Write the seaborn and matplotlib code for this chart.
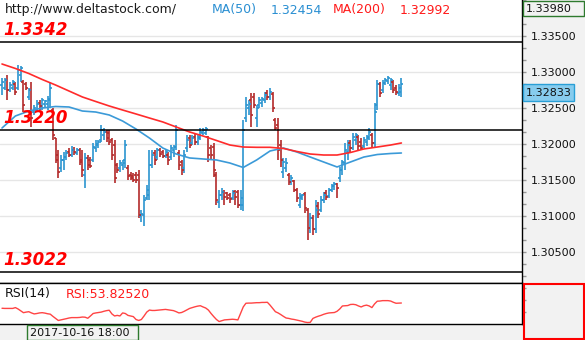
import numpy as np
import matplotlib
matplotlib.use("Agg")
import matplotlib.pyplot as plt
from matplotlib.patches import Rectangle
from matplotlib.ticker import FixedLocator, MultipleLocator, FormatStrFormatter, NullFormatter
import seaborn as sns

# ---------------- data ----------------
opens = [1.3282, 1.3278, 1.3289, 1.3275, 1.3278, 1.3283, 1.3278, 1.3296, 1.3286, 1.3283,
         1.3265, 1.3275, 1.3244, 1.3247, 1.3257, 1.3253, 1.3256, 1.3256, 1.3261, 1.3247,
         1.3208, 1.3185, 1.3167, 1.3178, 1.3182, 1.3189, 1.3185, 1.3192, 1.3188, 1.3192,
         1.3178, 1.3157, 1.3181, 1.3178, 1.3178, 1.3194, 1.3199, 1.3206, 1.3213, 1.3217,
         1.3215, 1.3206, 1.3199, 1.3171, 1.3167, 1.3171, 1.3178, 1.3167, 1.3157, 1.3156,
         1.3157, 1.3157, 1.3100, 1.3101, 1.3125, 1.3129, 1.3171, 1.3188, 1.3182, 1.3192,
         1.3189, 1.3183, 1.3185, 1.3182, 1.3192, 1.3196, 1.3188, 1.3175, 1.3167, 1.3194,
         1.3208, 1.3201, 1.3210, 1.3203, 1.3210, 1.3215, 1.3215, 1.3210, 1.3194, 1.3196,
         1.3157, 1.3119, 1.3129, 1.3133, 1.3132, 1.3129, 1.3125, 1.3133, 1.3133, 1.3115,
         1.3115, 1.3236, 1.3250, 1.3261, 1.3265, 1.3236, 1.3254, 1.3257, 1.3261, 1.3271,
         1.3265, 1.3269, 1.3233, 1.3226, 1.3199, 1.3161, 1.3167, 1.3157, 1.3147, 1.3149,
         1.3136, 1.3115, 1.3125, 1.3131, 1.3108, 1.3083, 1.3097, 1.3082, 1.3114, 1.3108,
         1.3122, 1.3132, 1.3128, 1.3136, 1.3142, 1.3144, 1.3153, 1.3164, 1.3174, 1.3189,
         1.3201, 1.3194, 1.3206, 1.3210, 1.3203, 1.3197, 1.3203, 1.3208, 1.3213, 1.3201,
         1.3254, 1.3283, 1.3275, 1.3285, 1.3288, 1.3282, 1.3286, 1.3278, 1.3271, 1.3272]
highs = [1.3292, 1.3292, 1.3296, 1.3286, 1.3289, 1.3286, 1.3310, 1.3308, 1.3289, 1.3286,
         1.3278, 1.3286, 1.3254, 1.3261, 1.3261, 1.3264, 1.3261, 1.3267, 1.3286, 1.3250,
         1.3208, 1.3192, 1.3185, 1.3189, 1.3192, 1.3194, 1.3197, 1.3196, 1.3194, 1.3194,
         1.3192, 1.3188, 1.3185, 1.3182, 1.3201, 1.3206, 1.3206, 1.3226, 1.3222, 1.3219,
         1.3219, 1.3208, 1.3206, 1.3174, 1.3178, 1.3178, 1.3206, 1.3171, 1.3161, 1.3160,
         1.3161, 1.3164, 1.3108, 1.3129, 1.3143, 1.3192, 1.3192, 1.3192, 1.3194, 1.3194,
         1.3192, 1.3192, 1.3189, 1.3199, 1.3199, 1.3226, 1.3192, 1.3178, 1.3192, 1.3213,
         1.3213, 1.3213, 1.3215, 1.3213, 1.3222, 1.3222, 1.3224, 1.3211, 1.3199, 1.3201,
         1.3161, 1.3136, 1.3139, 1.3136, 1.3133, 1.3132, 1.3136, 1.3136, 1.3136, 1.3136,
         1.3233, 1.3265, 1.3261, 1.3271, 1.3271, 1.3254, 1.3265, 1.3265, 1.3272, 1.3275,
         1.3278, 1.3272, 1.3236, 1.3236, 1.3206, 1.3181, 1.3181, 1.3160, 1.3157, 1.3150,
         1.3139, 1.3132, 1.3131, 1.3133, 1.3111, 1.3104, 1.3101, 1.3122, 1.3119, 1.3128,
         1.3133, 1.3136, 1.3139, 1.3144, 1.3147, 1.3146, 1.3168, 1.3178, 1.3201, 1.3206,
         1.3206, 1.3215, 1.3215, 1.3213, 1.3208, 1.3210, 1.3213, 1.3222, 1.3215, 1.3257,
         1.3289, 1.3286, 1.3289, 1.3292, 1.3294, 1.3292, 1.3289, 1.3282, 1.3283, 1.3292]
lows = [1.3268, 1.3275, 1.3261, 1.3272, 1.3275, 1.3268, 1.3275, 1.3286, 1.3244, 1.3275,
        1.3261, 1.3224, 1.3240, 1.3244, 1.3247, 1.3247, 1.3250, 1.3247, 1.3250, 1.3206,
        1.3174, 1.3153, 1.3161, 1.3164, 1.3178, 1.3182, 1.3182, 1.3185, 1.3185, 1.3171,
        1.3154, 1.3139, 1.3164, 1.3167, 1.3175, 1.3189, 1.3194, 1.3203, 1.3206, 1.3203,
        1.3199, 1.3178, 1.3146, 1.3160, 1.3161, 1.3164, 1.3167, 1.3150, 1.3150, 1.3147,
        1.3146, 1.3097, 1.3092, 1.3086, 1.3122, 1.3122, 1.3167, 1.3171, 1.3178, 1.3182,
        1.3181, 1.3181, 1.3171, 1.3178, 1.3182, 1.3192, 1.3164, 1.3157, 1.3160, 1.3189,
        1.3194, 1.3199, 1.3199, 1.3199, 1.3206, 1.3213, 1.3213, 1.3175, 1.3178, 1.3154,
        1.3115, 1.3111, 1.3122, 1.3115, 1.3122, 1.3118, 1.3122, 1.3115, 1.3111, 1.3108,
        1.3107, 1.3231, 1.3240, 1.3224, 1.3250, 1.3224, 1.3250, 1.3251, 1.3257, 1.3261,
        1.3261, 1.3244, 1.3219, 1.3178, 1.3168, 1.3153, 1.3161, 1.3143, 1.3143, 1.3133,
        1.3119, 1.3111, 1.3122, 1.3104, 1.3067, 1.3076, 1.3074, 1.3076, 1.3097, 1.3106,
        1.3118, 1.3122, 1.3125, 1.3133, 1.3136, 1.3125, 1.3147, 1.3157, 1.3164, 1.3178,
        1.3189, 1.3192, 1.3199, 1.3192, 1.3192, 1.3194, 1.3197, 1.3206, 1.3196, 1.3196,
        1.3247, 1.3265, 1.3271, 1.3282, 1.3283, 1.3275, 1.3271, 1.3268, 1.3267, 1.3265]
closes = [1.3286, 1.3289, 1.3275, 1.3282, 1.3286, 1.3272, 1.3303, 1.3306, 1.3254, 1.3278,
          1.3275, 1.3236, 1.3250, 1.3256, 1.3253, 1.3261, 1.3260, 1.3263, 1.3278, 1.3213,
          1.3178, 1.3161, 1.3178, 1.3182, 1.3188, 1.3185, 1.3192, 1.3189, 1.3192, 1.3175,
          1.3164, 1.3181, 1.3171, 1.3169, 1.3196, 1.3200, 1.3203, 1.3219, 1.3217, 1.3208,
          1.3203, 1.3185, 1.3153, 1.3164, 1.3174, 1.3174, 1.3199, 1.3156, 1.3153, 1.3150,
          1.3150, 1.3101, 1.3103, 1.3122, 1.3136, 1.3171, 1.3185, 1.3178, 1.3192, 1.3186,
          1.3183, 1.3189, 1.3178, 1.3194, 1.3196, 1.3219, 1.3171, 1.3164, 1.3185, 1.3206,
          1.3199, 1.3208, 1.3203, 1.3208, 1.3217, 1.3219, 1.3221, 1.3185, 1.3185, 1.3164,
          1.3122, 1.3129, 1.3133, 1.3126, 1.3125, 1.3124, 1.3132, 1.3126, 1.3115, 1.3125,
          1.3219, 1.3254, 1.3256, 1.3240, 1.3254, 1.3250, 1.3261, 1.3263, 1.3268, 1.3265,
          1.3272, 1.3250, 1.3222, 1.3192, 1.3178, 1.3175, 1.3174, 1.3147, 1.3153, 1.3136,
          1.3125, 1.3128, 1.3129, 1.3111, 1.3083, 1.3097, 1.3082, 1.3108, 1.3103, 1.3122,
          1.3129, 1.3126, 1.3136, 1.3142, 1.3144, 1.3139, 1.3164, 1.3175, 1.3192, 1.3199,
          1.3194, 1.3210, 1.3213, 1.3197, 1.3194, 1.3206, 1.3210, 1.3217, 1.3201, 1.3244,
          1.3283, 1.3271, 1.3285, 1.3289, 1.3292, 1.3289, 1.3275, 1.3272, 1.3278, 1.3283]

ma_idx = [0, 5, 10, 15, 20, 25, 30, 35, 40, 45, 50, 55, 60, 65, 70, 75, 80, 85, 90, 95,
          100, 105, 110, 115, 120, 125, 130, 135, 140, 145, 149]
ma50 = [1.32222, 1.32389, 1.32458, 1.32500, 1.32521, 1.32514, 1.32458, 1.32444, 1.32403, 1.32319,
        1.32208, 1.32083, 1.31944, 1.31861, 1.31806, 1.31792, 1.31778, 1.31736, 1.31674, 1.31778,
        1.31903, 1.31944, 1.31889, 1.31819, 1.31750, 1.31681, 1.31750, 1.31819, 1.31854, 1.31868,
        1.31875]
ma200 = [1.33111, 1.33049, 1.32979, 1.32896, 1.32819, 1.32736, 1.32653, 1.32590, 1.32528, 1.32472,
         1.32417, 1.32361, 1.32306, 1.32236, 1.32167, 1.32111, 1.32049, 1.31986, 1.31958, 1.31954,
         1.31954, 1.31938, 1.31896, 1.31861, 1.31847, 1.31847, 1.31882, 1.31931, 1.31958, 1.31986,
         1.32014]

rsi = [47.4, 47.2, 47.2, 47.2, 47.2, 48.2, 46.5, 44.2, 42.0, 42.7,
       43.2, 41.7, 40.5, 41.0, 41.7, 42.0, 41.5, 40.7, 40.2, 37.5,
       35.0, 32.5, 33.2, 34.0, 34.7, 35.5, 36.0, 36.0, 36.0, 36.2,
       36.7, 36.5, 35.2, 38.0, 41.0, 41.7, 42.2, 42.7, 43.7, 44.5,
       45.0, 40.5, 38.0, 38.7, 38.0, 41.7, 41.0, 38.7, 38.0, 37.2,
       33.7, 32.5, 33.7, 38.0, 42.7, 45.2, 44.7, 44.7, 45.0, 45.2,
       45.7, 46.0, 45.5, 45.0, 44.5, 43.2, 41.7, 42.2, 43.7, 45.5,
       47.2, 48.2, 49.2, 50.0, 50.5, 49.0, 47.7, 45.2, 41.0, 37.2,
       33.7, 31.2, 32.2, 33.2, 33.5, 33.7, 34.0, 33.7, 33.2, 41.0,
       49.0, 53.5, 53.7, 53.7, 54.0, 54.2, 54.2, 54.5, 54.5, 54.7,
       51.2, 47.2, 43.2, 41.7, 39.7, 37.5, 35.5, 35.0, 34.2, 33.7,
       33.0, 32.2, 31.5, 30.5, 30.0, 30.2, 35.0, 36.5, 37.7, 38.7,
       40.0, 41.0, 41.7, 42.0, 42.2, 43.7, 46.5, 50.2, 50.5, 50.7,
       52.0, 52.2, 51.7, 50.2, 49.0, 50.5, 51.2, 50.2, 48.2, 52.7,
       56.0, 56.2, 56.7, 56.7, 56.7, 56.2, 54.7, 53.5, 53.7, 53.8]

levels = [1.3342, 1.3220, 1.3022]
level_labels = ["1.3342", "1.3220", "1.3022"]
price_ticks = [1.305, 1.310, 1.315, 1.320, 1.325, 1.330, 1.335]

url_text = "http://www.deltastock.com/"
ma50_name, ma50_value = "MA(50)", "1.32454"
ma200_name, ma200_value = "MA(200)", "1.32992"
top_value = "1.33980"
last_price = "1.32833"
time_label = "2017-10-16 18:00"
rsi_name, rsi_value = "RSI(14)", "RSI:53.82520"

# ---------------- style ----------------
sns.set_theme(style="white")
plt.rcParams['font.family'] = ['DejaVu Sans']

BLUE = "#2b95d0"
RED = "#b32a2a"
MA50C = "#3b9ad8"
MA200C = "#ff2b2b"
RSIC = "#ff4444"
GREY = "#f2f2f2"
GREEN = "#2e7a2e"

W, H = 585, 340
fig = plt.figure(figsize=(W / 100, H / 100), dpi=100)
fig.patch.set_facecolor("white")


def fr(x0, y0, x1, y1):
    return [x0 / W, 1 - y1 / H, (x1 - x0) / W, (y1 - y0) / H]


def px_rect(x0, y0, x1, y1, **kw):
    r = Rectangle((x0 / W, 1 - y1 / H), (x1 - x0) / W, (y1 - y0) / H,
                  transform=fig.transFigure, **kw)
    fig.add_artist(r)
    return r


# backgrounds of right price scale and bottom time scale
px_rect(522, 0, 585, 340, facecolor=GREY, edgecolor="none", zorder=-2)
px_rect(0, 324, 522, 340, facecolor=GREY, edgecolor="none", zorder=-2)

ax = fig.add_axes(fr(0, 0, 522, 283))
axr = fig.add_axes(fr(0, 283, 522, 324))

o = np.array(opens); h = np.array(highs); l = np.array(lows); c = np.array(closes)
idx = np.arange(len(c))
cols = np.where(c >= o, BLUE, RED)

ax.vlines(idx, l, h, colors=cols, lw=1.2, zorder=3)
ax.hlines(o, idx - 0.75, idx, colors=cols, lw=1.2, zorder=3)
ax.hlines(c, idx, idx + 0.75, colors=cols, lw=1.2, zorder=3)

sns.lineplot(x=ma_idx, y=ma50, ax=ax, color=MA50C, lw=1.2, zorder=4, legend=False)
sns.lineplot(x=ma_idx, y=ma200, ax=ax, color=MA200C, lw=1.2, zorder=4, legend=False)

for lv, lab in zip(levels, level_labels):
    ax.axhline(lv, color="black", lw=1.1, zorder=5)
    ax.annotate(lab, xy=(0, lv), xycoords=("axes fraction", "data"),
                xytext=(3, 12), textcoords="offset pixels",
                ha="left", va="center", fontsize=12, fontweight="bold",
                fontstyle="italic", color="#ff0000", zorder=6)

ax.set_xlim(-0.746, 194.0)
ax.set_ylim(1.34 - 283 / 7200, 1.34)
ax.set_axisbelow(True)
ax.yaxis.tick_right()
ax.yaxis.set_major_locator(FixedLocator(price_ticks))
ax.yaxis.set_minor_locator(MultipleLocator(0.005 / 3))
ax.yaxis.set_major_formatter(FormatStrFormatter("%.5f"))
ax.yaxis.set_minor_formatter(NullFormatter())
ax.tick_params(axis="y", which="major", right=True, length=3, width=1, color="#999999",
               pad=3, labelsize=8, labelcolor="#111111")
ax.tick_params(axis="y", which="minor", right=True, length=3, width=1, color="#999999")
ax.set_xticks([])
ax.grid(axis="y", which="major", color="#e6e6e6", lw=1)
ax.grid(axis="x", visible=False)
for s in ["top", "left"]:
    ax.spines[s].set_visible(False)
for s in ["right", "bottom"]:
    ax.spines[s].set_visible(True)
    ax.spines[s].set_color("black")
    ax.spines[s].set_linewidth(1.0)
ax.set_xlabel(""); ax.set_ylabel("")

# RSI panel
sns.lineplot(x=idx, y=rsi, ax=axr, color=RSIC, lw=1.0, legend=False)
axr.set_xlim(-0.746, 194.0)
axr.set_ylim(28.2, 78.2)
axr.set_xticks([])
axr.yaxis.tick_right()
axr.set_yticks([42.9, 57.5, 72.1])
axr.set_yticklabels([])
axr.tick_params(axis="y", right=True, length=3, width=1, color="#999999")
axr.grid(False)
axr.spines["left"].set_visible(False)
for s in ["right", "bottom", "top"]:
    axr.spines[s].set_visible(True)
    axr.spines[s].set_color("black")
    axr.spines[s].set_linewidth(1.0)
axr.set_xlabel(""); axr.set_ylabel("")

# header texts
def ftext(x, y, s, **kw):
    fig.text(x / W, 1 - y / H, s, ha="left", va="center", **kw)

ftext(5, 10, url_text, fontsize=9, color="#1a1a1a")
ftext(212, 10, ma50_name, fontsize=9, color="#2a8fd2")
ftext(271, 10, ma50_value, fontsize=9, color="#2a8fd2")
ftext(333, 10, ma200_name, fontsize=9, color="#ff1a1a")
ftext(400, 10, ma200_value, fontsize=9, color="#ff1a1a")

ftext(5, 294, rsi_name, fontsize=9, color="#111111")
ftext(66, 294, rsi_value, fontsize=9, color="#ff1a1a")

# top value box
px_rect(522.5, 0.5, 584, 16, facecolor=GREY, edgecolor=GREEN, lw=1, zorder=5)
ftext(526, 8.5, top_value, fontsize=8, color="#111111", zorder=6)

# current price box anchored to the last close
fig.canvas.draw()
y_disp = ax.transData.transform((0, closes[-1]))[1]
y_top_px = H - y_disp
px_rect(523, y_top_px, 574, y_top_px + 17, facecolor="#87ccee", edgecolor="#2a9fd6", lw=1, zorder=5)
ftext(526, y_top_px + 8.5, last_price, fontsize=8, color="#111111", zorder=6)

# bottom time label box
px_rect(27, 324.5, 138, 340, facecolor=GREY, edgecolor=GREEN, lw=1, zorder=5)
ftext(30, 332.5, time_label, fontsize=8, color="#111111", zorder=6)

# red box of the RSI scale
px_rect(523.5, 284, 584, 339, facecolor="none", edgecolor="#ff0000", lw=1.5, zorder=5)

fig.savefig("out.png", dpi=100)
